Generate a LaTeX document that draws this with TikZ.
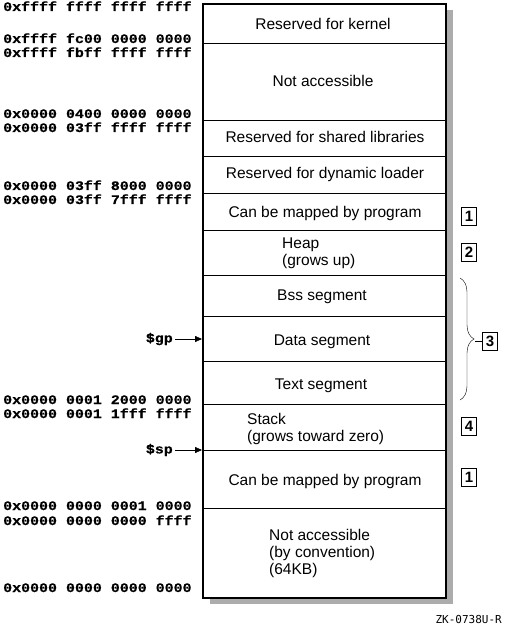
\documentclass[tikz,border=0pt]{standalone}
\usepackage{fontspec}
\setmainfont{Liberation Sans}
\newfontfamily\addrfont[FakeStretch=1.15,UprightFont={* Bold},FakeBold=0.6]{Liberation Mono}
\newfontfamily\tagfont{DejaVu Sans Mono}
\usetikzlibrary{arrows.meta,decorations.pathreplacing}

\begin{document}
\begin{tikzpicture}[x=1pt,y=-1pt,
  addr/.style={anchor=base west,inner sep=0pt,font=\addrfont\fontsize{13}{14}\selectfont},
  reg/.style={anchor=east,inner sep=2pt,font=\addrfont\fontsize{13}{14}\selectfont},
  seg/.style={anchor=base,inner sep=0pt,font=\fontsize{15.5}{17}\selectfont},
  segl/.style={anchor=base west,inner sep=0pt,align=left,font=\fontsize{15.5}{17}\selectfont},
  note/.style={draw,thick,minimum width=15pt,minimum height=18pt,inner sep=0pt,font=\bfseries\fontsize{15}{16}\selectfont},
  ptr/.style={-{Triangle[length=7pt,width=6pt]}}]
\useasboundingbox (0,0) rectangle (512,628);
% shadow
\fill[gray!65] (447,10) rectangle (453,604);
\fill[gray!65] (210,599) rectangle (453,604);
% address space
\draw[line width=2pt] (203,4) rectangle (446,598);
\foreach \y in {43,120,156,193,230,275,316,361,404,450,508}
  \draw (203,\y) -- (446,\y);
% segments
\node[seg] (kernel) at (323,30) {Reserved for kernel};
\node[seg] (noacc) at (323,87) {Not accessible};
\node[seg] (shlib) at (325,143) {Reserved for shared libraries};
\node[seg] (dynld) at (325,179) {Reserved for dynamic loader};
\node[seg] (mapA) at (325,218) {Can be mapped by program};
\node[segl] (heap) at (282,265) {Heap\\(grows up)};
\node[seg] (bss) at (322,300) {Bss segment};
\node[seg] (data) at (322,345) {Data segment};
\node[seg] (text) at (321,389) {Text segment};
\node[segl] (stack) at (247,441) {Stack\\(grows toward zero)};
\node[seg] (mapB) at (325,485) {Can be mapped by program};
\node[segl] (noconv) at (269,574) {Not accessible\\(by convention)\\(64KB)};
% addresses
\node[addr] (a1) at (3,11) {0xffff ffff ffff ffff};
\node[addr] (a2) at (3,43) {0xffff fc00 0000 0000};
\node[addr] (a3) at (3,57) {0xffff fbff ffff ffff};
\node[addr] (a4) at (3,118) {0x0000 0400 0000 0000};
\node[addr] (a5) at (3,132) {0x0000 03ff ffff ffff};
\node[addr] (a6) at (3,190) {0x0000 03ff 8000 0000};
\node[addr] (a7) at (3,204) {0x0000 03ff 7fff ffff};
\node[addr] (a8) at (3,404) {0x0000 0001 2000 0000};
\node[addr] (a9) at (3,418) {0x0000 0001 1fff ffff};
\node[addr] (a10) at (3,510) {0x0000 0000 0001 0000};
\node[addr] (a11) at (3,525) {0x0000 0000 0000 ffff};
\node[addr] (a12) at (3,592) {0x0000 0000 0000 0000};
% registers
\node[reg] (gp) at (175,339) {\$gp};
\node[reg] (sp) at (175,450) {\$sp};
\coordinate (gpend) at (202,339);
\coordinate (spend) at (202,450);
\draw[ptr] (gp) -- (gpend);
\draw[ptr] (sp) -- (spend);
% notes
\node[note] (n1a) at (469,216) {1};
\node[note] (n2) at (469,252) {2};
\node[note] (n3) at (490,341) {3};
\node[note] (n4) at (469,426) {4};
\node[note] (n1b) at (469,477) {1};
\draw[decorate,decoration={brace,amplitude=14pt}] (460,278) -- (460,400);
\coordinate (tip) at (475,341);
\draw (tip) -- (n3);
\node[anchor=base east,inner sep=0pt,font=\tagfont\fontsize{11}{12}\selectfont] (zk) at (502,623) {ZK-0738U-R};
\end{tikzpicture}
\end{document}
